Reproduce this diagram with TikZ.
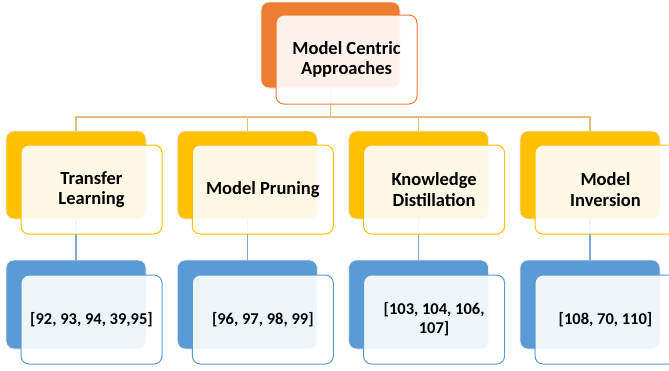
\documentclass[tikz,border=0pt]{standalone}
\usepackage{fontspec}
\setmainfont{Carlito}
\definecolor{corange}{HTML}{ED7D31}
\definecolor{cyellow}{HTML}{FFC000}
\definecolor{cblue}{HTML}{5B9BD5}
\definecolor{ctan}{HTML}{E2C07A}
\definecolor{clblue}{HTML}{7FA8D6}
\begin{document}
\begin{tikzpicture}[x=1pt,y=-1pt,
  backbox/.style={draw=white!85!gray,line width=0.8pt,rounded corners=8pt,inner sep=0pt,outer sep=0pt,minimum width=140pt,minimum height=88pt},
  frontbox/.style={line width=1pt,rounded corners=8pt,fill=white,fill opacity=0.9,text opacity=1,inner sep=0pt,outer sep=0pt,minimum width=141pt,minimum height=89pt,align=center,font=\fontsize{18.5}{20.5}\selectfont\bfseries},
  numbox/.style={frontbox,draw=cblue,font=\fontsize{16.5}{19}\selectfont\bfseries},
  conntan/.style={draw=ctan,line width=1.2pt},
  connblue/.style={draw=clblue,line width=1.2pt}]
\useasboundingbox (0,0) rectangle (669,370);
% back boxes
\node[backbox,fill=corange,minimum width=139pt,minimum height=86pt] (topb) at (330.5,45) {};
\foreach \i/\x in {1/76,2/247.3,3/418.6,4/590}{
  \node[backbox,fill=cyellow] (m\i b) at (\x,175) {};
  \node[backbox,fill=cblue,minimum height=89pt] (r\i b) at (\x,304.5) {};
}
% connectors
\draw[conntan] (topb.south) -- ++(0,29) coordinate (hub);
\foreach \i in {1,2,3,4}{
  \draw[conntan] (hub) -| (m\i b.north);
  \draw[connblue] (m\i b.south) -- (r\i b.north);
}
% front boxes
\node[frontbox,draw=corange] (topf) at (346.5,59.5) {Model Centric\\Approaches};
\node[frontbox,draw=cyellow] (m1f) at (91.5,189.5) {Transfer\\Learning};
\node[frontbox,draw=cyellow] (m2f) at (262.8,189.5) {Model Pruning};
\node[frontbox,draw=cyellow] (m3f) at (434.1,189.5) {Knowledge\\Distillation};
\node[frontbox,draw=cyellow] (m4f) at (605.5,189.5) {Model\\Inversion};
\node[numbox] (r1f) at (91.5,319.5) {[92, 93, 94, 39,95]};
\node[numbox] (r2f) at (262.8,319.5) {[96, 97, 98, 99]};
\node[numbox] (r3f) at (434.1,319.5) {[103, 104, 106,\\107]};
\node[numbox] (r4f) at (605.5,319.5) {[108, 70, 110]};
\end{tikzpicture}
\end{document}
